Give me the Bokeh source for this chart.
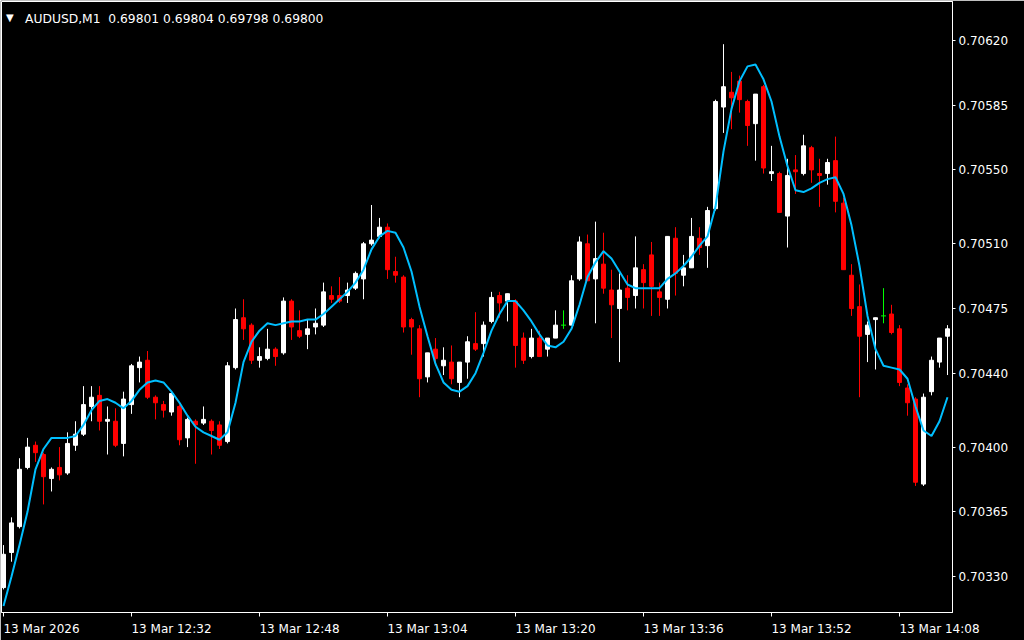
from bokeh.plotting import figure
from bokeh.models import Range1d, FixedTicker, PrintfTickFormatter, ColumnDataSource, Label
from bokeh.embed import file_html
from bokeh.resources import INLINE

# ---------------- data (AUDUSD M1, one bar per minute from 12:16) ----------------
opens = [0.70324, 0.70343, 0.70357, 0.70389, 0.70401, 0.70396, 0.70383, 0.70389, 0.70386, 0.70401,
         0.70407, 0.70422, 0.70428, 0.70414, 0.70414, 0.70402, 0.70423, 0.70443, 0.70447, 0.70427,
         0.70423, 0.70419, 0.70422, 0.70405, 0.70414, 0.70413, 0.70414, 0.70412, 0.70403, 0.70443,
         0.70470, 0.70466, 0.70447, 0.70448, 0.70453, 0.70451, 0.70479, 0.70463, 0.70461, 0.70465,
         0.70466, 0.70482, 0.70482, 0.70482, 0.70486, 0.70491, 0.70510, 0.70514, 0.70519, 0.70495,
         0.70492, 0.70469, 0.70464, 0.70438, 0.70453, 0.70444, 0.70446, 0.70435, 0.70446, 0.70456,
         0.70456, 0.70468, 0.70482, 0.70479, 0.70479, 0.70459, 0.70449, 0.70459, 0.70453, 0.70459,
         0.70466, 0.70466, 0.70491, 0.70510, 0.70491, 0.70499, 0.70485, 0.70475, 0.70486, 0.70482,
         0.70496, 0.70504, 0.70484, 0.70480, 0.70513, 0.70493, 0.70497, 0.70513, 0.70509, 0.70529,
         0.70584, 0.70592, 0.70598, 0.70587, 0.70575, 0.70595, 0.70548, 0.70548, 0.70525, 0.70550,
         0.70548, 0.70562, 0.70548, 0.70548, 0.70555, 0.70532, 0.70493, 0.70476, 0.70461, 0.70469,
         0.70471, 0.70472, 0.70464, 0.70432, 0.70426, 0.70380, 0.70430, 0.70446, 0.70460]
highs = [0.70347, 0.70362, 0.70394, 0.70405, 0.70403, 0.70397, 0.70389, 0.70400, 0.70408, 0.70414,
         0.70433, 0.70433, 0.70433, 0.70422, 0.70421, 0.70430, 0.70445, 0.70449, 0.70452, 0.70428,
         0.70425, 0.70429, 0.70423, 0.70416, 0.70415, 0.70422, 0.70415, 0.70414, 0.70446, 0.70475,
         0.70480, 0.70467, 0.70454, 0.70464, 0.70454, 0.70481, 0.70480, 0.70474, 0.70469, 0.70475,
         0.70489, 0.70487, 0.70492, 0.70489, 0.70495, 0.70511, 0.70531, 0.70524, 0.70521, 0.70503,
         0.70493, 0.70470, 0.70466, 0.70451, 0.70459, 0.70454, 0.70455, 0.70446, 0.70460, 0.70473,
         0.70468, 0.70484, 0.70484, 0.70483, 0.70480, 0.70462, 0.70464, 0.70463, 0.70459, 0.70474,
         0.70474, 0.70493, 0.70514, 0.70515, 0.70522, 0.70516, 0.70496, 0.70494, 0.70493, 0.70514,
         0.70499, 0.70511, 0.70489, 0.70514, 0.70519, 0.70504, 0.70524, 0.70519, 0.70530, 0.70588,
         0.70618, 0.70603, 0.70601, 0.70588, 0.70591, 0.70596, 0.70563, 0.70549, 0.70556, 0.70558,
         0.70569, 0.70563, 0.70556, 0.70556, 0.70568, 0.70535, 0.70499, 0.70488, 0.70468, 0.70470,
         0.70486, 0.70477, 0.70466, 0.70434, 0.70427, 0.70429, 0.70449, 0.70459, 0.70466]
lows = [0.70323, 0.70338, 0.70356, 0.70388, 0.70392, 0.70369, 0.70376, 0.70382, 0.70385, 0.70398,
        0.70406, 0.70414, 0.70409, 0.70396, 0.70400, 0.70395, 0.70418, 0.70435, 0.70426, 0.70415,
        0.70416, 0.70417, 0.70401, 0.70400, 0.70391, 0.70412, 0.70396, 0.70399, 0.70402, 0.70442,
        0.70458, 0.70445, 0.70443, 0.70447, 0.70444, 0.70450, 0.70458, 0.70459, 0.70453, 0.70461,
        0.70465, 0.70478, 0.70478, 0.70478, 0.70485, 0.70480, 0.70509, 0.70513, 0.70491, 0.70489,
        0.70462, 0.70450, 0.70427, 0.70435, 0.70444, 0.70439, 0.70434, 0.70427, 0.70437, 0.70452,
        0.70449, 0.70467, 0.70470, 0.70468, 0.70443, 0.70445, 0.70448, 0.70449, 0.70449, 0.70459,
        0.70464, 0.70466, 0.70490, 0.70490, 0.70467, 0.70483, 0.70459, 0.70446, 0.70474, 0.70475,
        0.70475, 0.70471, 0.70471, 0.70475, 0.70482, 0.70487, 0.70497, 0.70504, 0.70497, 0.70528,
        0.70570, 0.70572, 0.70581, 0.70563, 0.70555, 0.70548, 0.70544, 0.70527, 0.70508, 0.70537,
        0.70547, 0.70543, 0.70530, 0.70542, 0.70527, 0.70496, 0.70471, 0.70427, 0.70446, 0.70442,
        0.70467, 0.70461, 0.70433, 0.70417, 0.70379, 0.70379, 0.70428, 0.70443, 0.70439]
closes = [0.70342, 0.70359, 0.70388, 0.70400, 0.70397, 0.70384, 0.70388, 0.70385, 0.70402, 0.70407,
          0.70423, 0.70427, 0.70414, 0.70415, 0.70401, 0.70426, 0.70444, 0.70446, 0.70427, 0.70424,
          0.70420, 0.70429, 0.70404, 0.70415, 0.70412, 0.70415, 0.70409, 0.70401, 0.70444, 0.70469,
          0.70464, 0.70447, 0.70449, 0.70453, 0.70449, 0.70479, 0.70465, 0.70460, 0.70464, 0.70467,
          0.70484, 0.70480, 0.70479, 0.70485, 0.70494, 0.70510, 0.70512, 0.70519, 0.70496, 0.70493,
          0.70465, 0.70465, 0.70437, 0.70451, 0.70448, 0.70447, 0.70437, 0.70446, 0.70457, 0.70453,
          0.70466, 0.70481, 0.70478, 0.70483, 0.70455, 0.70447, 0.70459, 0.70449, 0.70459, 0.70466,
          0.70466, 0.70490, 0.70511, 0.70490, 0.70502, 0.70486, 0.70477, 0.70485, 0.70481, 0.70497,
          0.70489, 0.70487, 0.70481, 0.70514, 0.70494, 0.70497, 0.70514, 0.70508, 0.70528, 0.70587,
          0.70595, 0.70589, 0.70588, 0.70574, 0.70591, 0.70551, 0.70549, 0.70527, 0.70547, 0.70549,
          0.70563, 0.70550, 0.70547, 0.70554, 0.70533, 0.70496, 0.70475, 0.70460, 0.70466, 0.70470,
          0.70471, 0.70462, 0.70435, 0.70424, 0.70381, 0.70427, 0.70447, 0.70459, 0.70464]
ma_values = [0.70314, 0.70330, 0.70347, 0.70365, 0.70388, 0.70399, 0.70405, 0.70405, 0.70405, 0.70406,
             0.70412, 0.70420, 0.70425, 0.70426, 0.70424, 0.70421, 0.70425, 0.70431, 0.70435, 0.70436,
             0.70435, 0.70430, 0.70424, 0.70417, 0.70411, 0.70408, 0.70406, 0.70404, 0.70408, 0.70424,
             0.70446, 0.70457, 0.70463, 0.70467, 0.70466, 0.70467, 0.70468, 0.70468, 0.70469, 0.70469,
             0.70472, 0.70476, 0.70480, 0.70484, 0.70489, 0.70496, 0.70507, 0.70514, 0.70517, 0.70516,
             0.70508, 0.70495, 0.70476, 0.70460, 0.70445, 0.70435, 0.70431, 0.70430, 0.70433, 0.70440,
             0.70451, 0.70463, 0.70472, 0.70479, 0.70479, 0.70474, 0.70468, 0.70461, 0.70455, 0.70454,
             0.70457, 0.70464, 0.70477, 0.70492, 0.70500, 0.70506, 0.70502, 0.70495, 0.70488, 0.70486,
             0.70486, 0.70486, 0.70486, 0.70491, 0.70494, 0.70498, 0.70503, 0.70509, 0.70514, 0.70530,
             0.70560, 0.70583, 0.70598, 0.70606, 0.70607, 0.70599, 0.70587, 0.70568, 0.70552, 0.70539,
             0.70538, 0.70540, 0.70543, 0.70545, 0.70546, 0.70537, 0.70520, 0.70498, 0.70471, 0.70453,
             0.70444, 0.70443, 0.70442, 0.70437, 0.70422, 0.70409, 0.70406, 0.70414, 0.70427]
time_tick_bars = [0, 16, 32, 48, 64, 80, 96, 112]
time_tick_labels = ["13 Mar 2026", "13 Mar 12:32", "13 Mar 12:48", "13 Mar 13:04",
                    "13 Mar 13:20", "13 Mar 13:36", "13 Mar 13:52", "13 Mar 14:08"]
price_ticks = [0.70330, 0.70365, 0.70400, 0.70440, 0.70475, 0.70510, 0.70550, 0.70585, 0.70620]
header_symbol = "AUDUSD,M1"
header_quote = "0.69801 0.69804 0.69798 0.69800"

# ---------------- layout / style ----------------
W, H = 1024, 640
FRAME_L, FRAME_T, FRAME_R, FRAME_B = 1, 1, 952, 612
BAR_PX = 8.0
FIRST_BAR_PX = 3.0          # renderer adds a half-pixel, giving crisp 1px wicks
PX_PER_UNIT = 536.0 / (0.70620 - 0.70330)  # vertical scale
Y_REF_PRICE, Y_REF_PX = 0.70620, 40.0

x_start = -(FIRST_BAR_PX - FRAME_L) / BAR_PX
x_end = x_start + (FRAME_R - FRAME_L) / BAR_PX
y_top = Y_REF_PRICE + (Y_REF_PX - FRAME_T) / PX_PER_UNIT
y_bot = y_top - (FRAME_B - FRAME_T) / PX_PER_UNIT


def px_x(px):
    return x_start + (px - FRAME_L) / BAR_PX


def px_y(py):
    return y_top - (py - FRAME_T) / PX_PER_UNIT


FONT = "DejaVu Sans"
BULL, BEAR, DOJI = "#FFFFFF", "#FF0000", "#00FF00"
MA_COLOR = "#00BFFF"

n = len(opens)
idx = list(range(n))
colors, tops, bots = [], [], []
doji_x, doji_y = [], []
for i, (o, c) in enumerate(zip(opens, closes)):
    if c > o:
        colors.append(BULL)
    elif c < o:
        colors.append(BEAR)
    else:
        colors.append(DOJI)
        doji_x.append(i)
        doji_y.append(o)
    tops.append(max(o, c))
    bots.append(min(o, c))

src = ColumnDataSource(dict(x=idx, o=opens, h=highs, l=lows, c=closes,
                            top=tops, bot=bots, color=colors))
body_idx = [i for i in idx if opens[i] != closes[i]]
body_src = ColumnDataSource(dict(x=[idx[i] for i in body_idx],
                                 top=[tops[i] for i in body_idx],
                                 bot=[bots[i] for i in body_idx],
                                 color=[colors[i] for i in body_idx]))

p = figure(width=W, height=H, output_backend="svg", toolbar_location=None,
           x_range=Range1d(x_start, x_end), y_range=Range1d(y_bot, y_top),
           y_axis_location="right",
           min_border_left=FRAME_L, min_border_top=FRAME_T,
           min_border_right=W - FRAME_R, min_border_bottom=H - FRAME_B,
           background_fill_color="black", border_fill_color="black",
           outline_line_color="white", outline_line_width=1)
p.grid.visible = False

# wicks
p.segment(x0="x", y0="l", x1="x", y1="h", color="color", line_width=1, source=src)
# bodies
p.vbar(x="x", top="top", bottom="bot", width=0.5, fill_color="color",
       line_color="color", line_width=1, source=body_src)
# doji bars
half = 2.5 / BAR_PX
p.segment(x0=[x - half for x in doji_x], y0=doji_y, x1=[x + half for x in doji_x], y1=doji_y,
          color=DOJI, line_width=1)
# smoothed moving average
p.line(idx, ma_values, color=MA_COLOR, line_width=2)

# x axis: labels start at their tick (MT4 style)
char_w = {" ": 0.318, "M": 0.863, "a": 0.613, "r": 0.411, ":": 0.337}
label_pos, overrides = [], {}
for b, lab in zip(time_tick_bars, time_tick_labels):
    wpx = sum(char_w.get(ch, 0.636) for ch in lab) * 12
    pos = b + round(wpx / 2 - 0.5) / BAR_PX
    label_pos.append(pos)
    overrides[pos] = lab
xa = p.xaxis[0]
xa.ticker = FixedTicker(ticks=label_pos, minor_ticks=[float(b) for b in time_tick_bars])
xa.major_label_overrides = overrides
xa.major_tick_in = 0
xa.major_tick_out = 0
xa.minor_tick_in = 0
xa.minor_tick_out = 4
xa.minor_tick_line_color = "white"
xa.axis_line_color = "white"
xa.major_label_standoff = 5
xa.major_label_text_color = "white"
xa.major_label_text_font = FONT
xa.major_label_text_font_size = "12px"

ya = p.yaxis[0]
ya.ticker = FixedTicker(ticks=price_ticks)
ya.formatter = PrintfTickFormatter(format="%.5f")
ya.major_tick_in = 0
ya.major_tick_out = 3
ya.minor_tick_line_color = None
ya.major_tick_line_color = "white"
ya.axis_line_color = "white"
ya.major_label_standoff = 3
ya.major_label_text_color = "white"
ya.major_label_text_font = FONT
ya.major_label_text_font_size = "12px"

# header
p.add_layout(Label(x=px_x(5.5), y=px_y(16.5), text="\u25bc", text_color="white",
                   text_font=FONT, text_font_size="10px", text_baseline="alphabetic"))
p.add_layout(Label(x=px_x(24.5), y=px_y(18.3),
                   text=header_symbol + "\u00a0\u00a0" + header_quote,
                   text_color="white", text_font=FONT, text_font_size="12.3px",
                   text_baseline="alphabetic"))

open("out.html", "w").write(file_html(p, INLINE))
